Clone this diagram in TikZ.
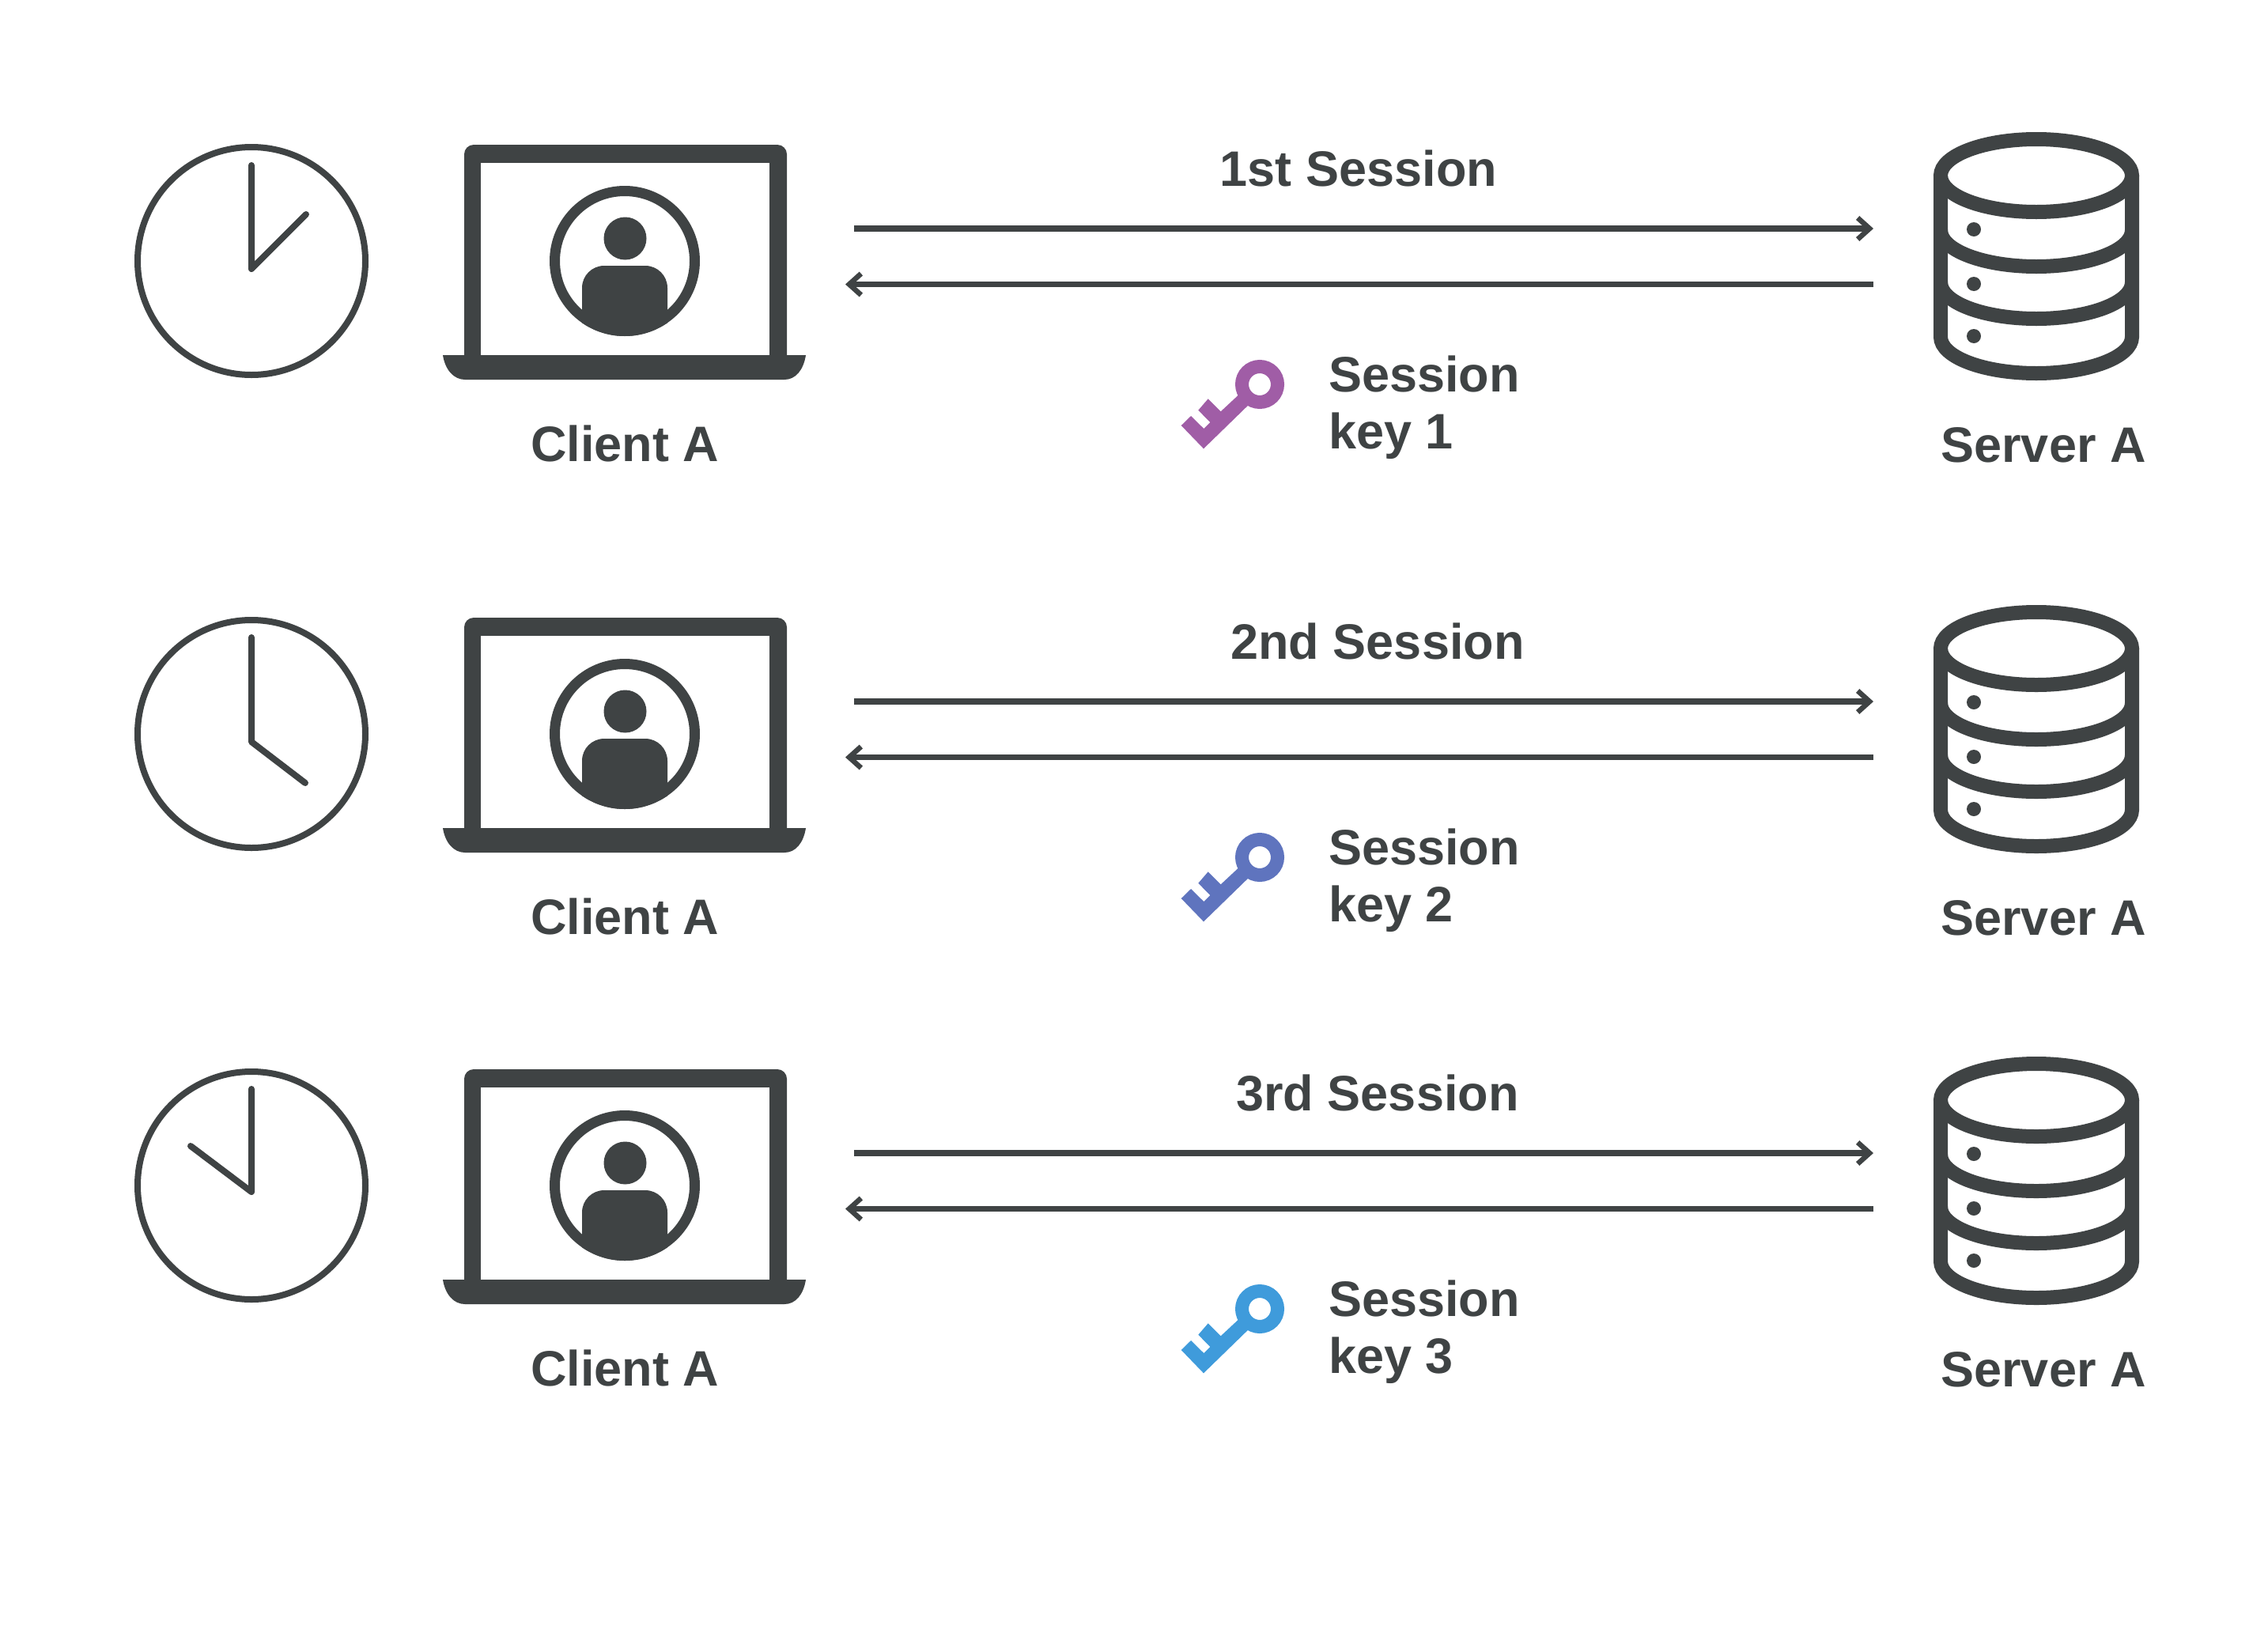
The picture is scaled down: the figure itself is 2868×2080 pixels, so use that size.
\documentclass[tikz,border=0pt]{standalone}
\usepackage{fontspec}
\setmainfont{Liberation Sans}
\usetikzlibrary{arrows.meta}
\definecolor{ink}{HTML}{3F4344}
\definecolor{keyA}{HTML}{A05DA6}
\definecolor{keyB}{HTML}{5F74BE}
\definecolor{keyC}{HTML}{3F9BDB}
\tikzset{
  lbl/.style={inner sep=0pt,text=ink,font=\fontsize{63}{63}\selectfont\bfseries},
  hand/.style={draw=ink,line width=8pt,line cap=round,line join=round},
  conn/.style={draw=ink,line width=7.5pt,-{Straight Barb[length=15pt,width=27pt,line width=6.5pt]}},
  dbline/.style={draw=ink,line width=18pt}
}
\begin{document}
\begin{tikzpicture}[x=1pt,y=-1pt]
\useasboundingbox (0,0) rectangle (2868,2080);
\fill[white] (0,0) rectangle (2868,2080);
\foreach \r/\dy/\title/\tx/\col/\ka/\kb/\kc/\kd/\ke/\kf in {
  1/0/1st Session/1718/keyA/318/209/318/340/387/271,
  2/598/2nd Session/1742/keyB/318/208/318/340/386/392,
  3/1169/3rd Session/1742/keyC/318/208/318/338/241/280}{
\begin{scope}[shift={(0,\dy)}]
  % clock
  \node[circle,draw=ink,line width=8pt,minimum size=288pt,inner sep=0pt] (clock\r) at (318,330) {};
  \draw[hand] (\ka,\kb) -- (\kc,\kd) -- (\ke,\kf);
  % laptop
  \fill[ink,rounded corners=12pt] (587,470) -- (587,183) -- (995,183) -- (995,470) -- cycle;
  \fill[white] (608,206) rectangle (973,449);
  \fill[ink] (560,449) -- (1019,449) .. controls (1016,468) and (1006,480) .. (992,480) -- (588,480) .. controls (574,480) and (563,468) .. (560,449) -- cycle;
  \begin{scope}
    \clip (790,330) circle[radius=95];
    \fill[ink,rounded corners=28pt] (736,440) -- (736,336) -- (844,336) -- (844,440) -- cycle;
  \end{scope}
  \node[circle,draw=ink,line width=13pt,minimum size=177pt,inner sep=0pt] (user\r) at (790,330) {};
  \fill[ink] (790.5,301.5) circle[radius=27];
  \node[lbl,anchor=base] (client\r) at (790,583) {Client A};
  % connectors
  \coordinate (outa\r) at (1080,289);
  \coordinate (outb\r) at (2369,289);
  \coordinate (ina\r) at (2369,359.5);
  \coordinate (inb\r) at (1069,359.5);
  \draw[conn] (outa\r) -- (outb\r);
  \draw[conn] (ina\r) -- (inb\r);
  \node[lbl,anchor=base] (title\r) at (\tx,235) {\title};
  % key
  \begin{scope}[shift={(1593,486)}]
    \fill[\col] (-99.3,52) -- (-87,40) -- (-70.7,56) -- (-62.7,48) -- (-77.7,32.7) -- (-65.3,18.3) -- (-49.3,34.3) -- (-20,7) -- (-8,20) -- (-71,81.3) -- cycle;
    \node[circle,draw=\col,fill=white,line width=17pt,minimum size=45pt,inner sep=0pt] (key\r) at (0,0) {};
  \end{scope}
  \node[lbl,anchor=base west] (sess\r) at (1680,495) {Session};
  \node[lbl,anchor=base west] (keyl\r) at (1680,567) {key \r};
  % server
  \draw[dbline] (2575,222) ellipse[x radius=121pt,y radius=46pt];
  \draw[dbline] (2454,222) -- (2454,426) arc[start angle=180,end angle=360,x radius=121pt,y radius=46pt] -- (2696,222);
  \draw[dbline] (2454,291) arc[start angle=180,end angle=360,x radius=121pt,y radius=46pt];
  \draw[dbline] (2454,357) arc[start angle=180,end angle=360,x radius=121pt,y radius=46pt];
  \fill[ink] (2496,290) circle[radius=9] (2496,359) circle[radius=9] (2496,425) circle[radius=9];
  \node[lbl,anchor=base] (server\r) at (2584,584) {Server A};
\end{scope}}
\end{tikzpicture}
\end{document}
